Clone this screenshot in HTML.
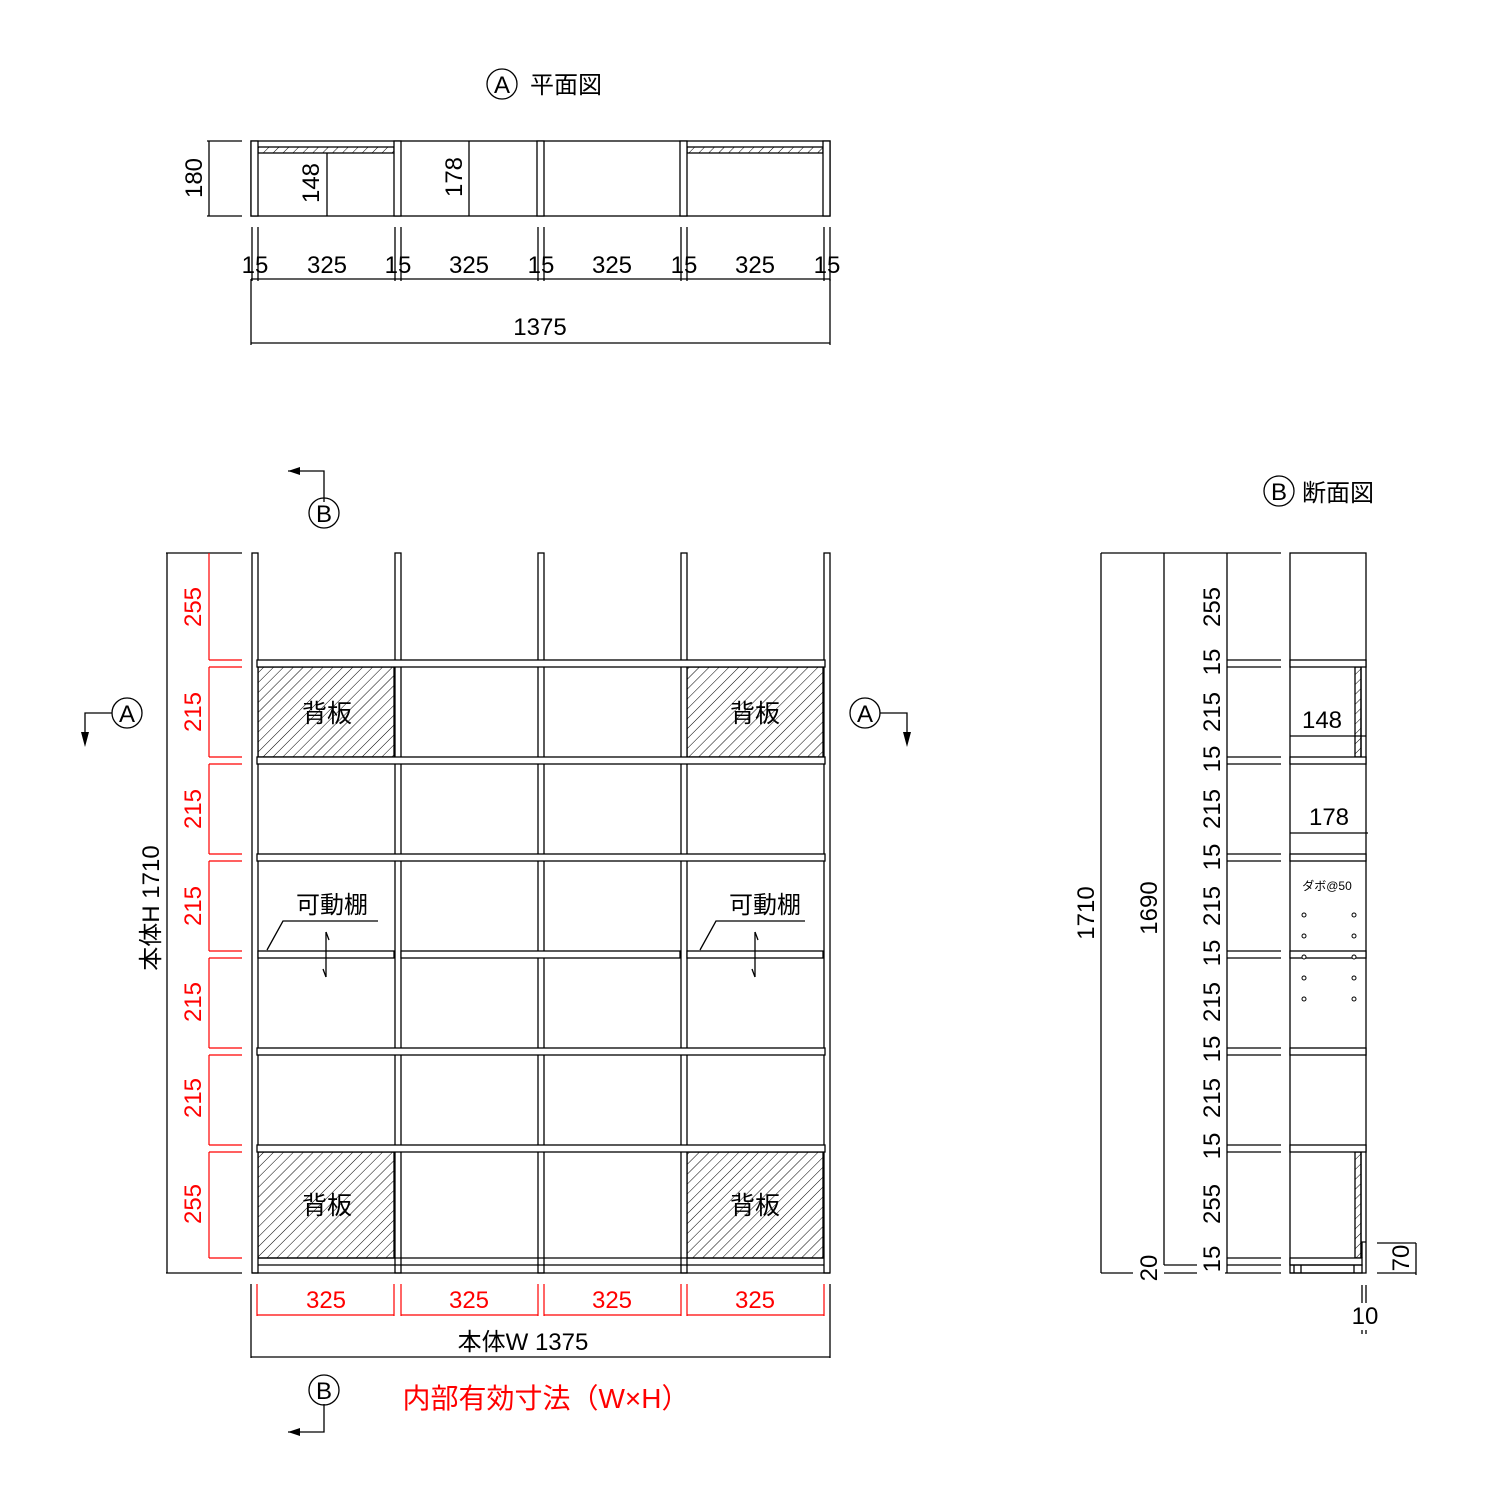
<!DOCTYPE html>
<html><head><meta charset="utf-8"><style>
html,body{margin:0;padding:0;background:#fff;}
svg{display:block;}
text{font-family:"Liberation Sans","Noto Sans CJK JP",sans-serif;}
</style></head><body>
<svg width="1500" height="1500" viewBox="0 0 1500 1500" xmlns="http://www.w3.org/2000/svg">
<defs>
<pattern id="h" width="7" height="7" patternUnits="userSpaceOnUse" patternTransform="rotate(45)">
<line x1="0" y1="0" x2="0" y2="7" stroke="#000" stroke-width="1"/>
</pattern>
</defs>
<g stroke="#000" stroke-width="1.3" fill="none">
<circle cx="502" cy="84" r="15"/>
<rect x="251" y="141" width="579" height="75" fill="#fff"/>
<rect x="258" y="147" width="136" height="6" fill="url(#h)"/>
<rect x="687" y="147" width="136" height="6" fill="url(#h)"/>
<rect x="251" y="141" width="7" height="75" fill="#fff"/>
<rect x="394" y="141" width="7" height="75" fill="#fff"/>
<rect x="537" y="141" width="7" height="75" fill="#fff"/>
<rect x="680" y="141" width="7" height="75" fill="#fff"/>
<rect x="823" y="141" width="7" height="75" fill="#fff"/>
<line x1="327" y1="153" x2="327" y2="216"/>
<line x1="469" y1="141" x2="469" y2="216"/>
<line x1="209" y1="141" x2="209" y2="216"/>
<line x1="207" y1="141" x2="242" y2="141"/>
<line x1="207" y1="216" x2="242" y2="216"/>
<path d="M252 227V281M258 227V281M395 227V281M401 227V281M538 227V281M544 227V281M681 227V281M687 227V281M824 227V281M830 227V281"/>
<line x1="251" y1="279" x2="830" y2="279"/>
<line x1="251" y1="343" x2="830" y2="343"/>
<line x1="251" y1="279" x2="251" y2="345"/>
<line x1="830" y1="279" x2="830" y2="345"/>

<path d="M288 471H324V502"/>
<circle cx="324" cy="513" r="15"/>
<path d="M288 1432H324V1404"/>
<circle cx="324" cy="1390" r="15"/>
<path d="M85 732V713H112"/>
<circle cx="127" cy="713" r="15"/>
<path d="M907 732V713H880"/>
<circle cx="865" cy="713" r="15"/>

<rect x="258" y="667" width="136" height="90" fill="url(#h)"/>
<rect x="687" y="667" width="136" height="90" fill="url(#h)"/>
<rect x="258" y="1152" width="136" height="106" fill="url(#h)"/>
<rect x="687" y="1152" width="136" height="106" fill="url(#h)"/>

<rect x="252" y="553" width="6" height="720" fill="#fff"/>
<rect x="395" y="553" width="6" height="720" fill="#fff"/>
<rect x="538" y="553" width="6" height="720" fill="#fff"/>
<rect x="681" y="553" width="6" height="720" fill="#fff"/>
<rect x="824" y="553" width="6" height="720" fill="#fff"/>

<rect x="257" y="660" width="568" height="7" fill="#fff"/>
<rect x="257" y="757" width="568" height="7" fill="#fff"/>
<rect x="257" y="854" width="568" height="7" fill="#fff"/>
<rect x="258" y="951" width="136" height="7" fill="#fff"/>
<rect x="401" y="951" width="279" height="7" fill="#fff"/>
<rect x="687" y="951" width="136" height="7" fill="#fff"/>
<rect x="257" y="1048" width="568" height="7" fill="#fff"/>
<rect x="257" y="1145" width="568" height="7" fill="#fff"/>
<line x1="258" y1="1258" x2="824" y2="1258"/>
<line x1="258" y1="1265" x2="824" y2="1265"/>
<line x1="252" y1="1273" x2="830" y2="1273"/>

<path d="M267 950L283 921H378"/>
<path d="M326 932V977M700 950L716 921H805M755 932V977"/>
<path d="M326 932L329 940M326 977L323 969M755 932L758 940M755 977L752 969"/>

<line x1="167" y1="553" x2="167" y2="1273"/>
<line x1="166" y1="553" x2="242" y2="553"/>
<line x1="166" y1="1273" x2="242" y2="1273"/>
<line x1="251" y1="1284" x2="251" y2="1358"/>
<line x1="830" y1="1284" x2="830" y2="1358"/>
<line x1="251" y1="1357" x2="830" y2="1357"/>
</g>
<g stroke="#f00" stroke-width="1.2" fill="none">
<line x1="209" y1="553" x2="209" y2="660"/>
<line x1="209" y1="667" x2="209" y2="757"/>
<line x1="209" y1="764" x2="209" y2="854"/>
<line x1="209" y1="861" x2="209" y2="951"/>
<line x1="209" y1="958" x2="209" y2="1048"/>
<line x1="209" y1="1055" x2="209" y2="1145"/>
<line x1="209" y1="1152" x2="209" y2="1258"/>
<path d="M209 660H242M209 667H242M209 757H242M209 764H242M209 854H242M209 861H242M209 951H242M209 958H242M209 1048H242M209 1055H242M209 1145H242M209 1152H242M209 1258H242"/>
<path d="M257 1284V1316M394 1284V1316M401 1284V1316M538 1284V1316M544 1284V1316M681 1284V1316M687 1284V1316M824 1284V1316"/>
<path d="M257 1315H394M401 1315H538M544 1315H681M687 1315H824"/>
</g>

<g fill="#000">
<polygon points="288,471 300,467 300,475"/>
<polygon points="288,1432 300,1428 300,1436"/>
<polygon points="85,747 81,732 89,732"/>
<polygon points="907,747 903,732 911,732"/>
</g>

<g stroke="#000" stroke-width="1.3" fill="none">
<circle cx="1279" cy="491" r="15"/>
<line x1="1101" y1="553" x2="1101" y2="1273"/>
<line x1="1164" y1="553" x2="1164" y2="1265"/>
<line x1="1227" y1="553" x2="1227" y2="1273"/>
<path d="M1101 553H1281M1101 1273H1133M1164 1265H1197M1164 1273H1197M1225 1273H1281"/>
<path d="M1227 660H1281M1227 667H1281M1227 757H1281M1227 764H1281M1227 854H1281M1227 861H1281M1227 951H1281M1227 958H1281M1227 1048H1281M1227 1055H1281M1227 1145H1281M1227 1152H1281M1227 1258H1281M1227 1265H1281"/>
<rect x="1290" y="553" width="76" height="720" fill="#fff"/>
<rect x="1355" y="667" width="6" height="90" fill="url(#h)"/>
<rect x="1355" y="1152" width="6" height="106" fill="url(#h)"/>
<path d="M1361 667V757M1361 1152V1258"/>
<rect x="1290" y="660" width="76" height="7" fill="#fff"/>
<rect x="1290" y="757" width="76" height="7" fill="#fff"/>
<rect x="1290" y="854" width="76" height="7" fill="#fff"/>
<rect x="1290" y="951" width="76" height="7" fill="#fff"/>
<rect x="1290" y="1048" width="76" height="7" fill="#fff"/>
<rect x="1290" y="1145" width="76" height="7" fill="#fff"/>
<rect x="1290" y="1258" width="72" height="7" fill="#fff"/>
<path d="M1290 1265H1362V1273H1290M1294 1265V1273M1301 1265V1273M1354 1265V1273M1362 1258V1242H1366"/>
<line x1="1290" y1="736" x2="1366" y2="736"/>
<line x1="1290" y1="833" x2="1368" y2="833"/>
<path d="M1377 1243H1416M1377 1273H1416M1416 1243V1275"/>
<path d="M1362 1285V1303M1366 1285V1303M1362 1330V1334M1366 1330V1334"/>
</g>
<g stroke="#000" stroke-width="1" fill="#fff">
<circle cx="1304" cy="915" r="2"/><circle cx="1354" cy="915" r="2"/>
<circle cx="1304" cy="936" r="2"/><circle cx="1354" cy="936" r="2"/>
<circle cx="1304" cy="957" r="2"/><circle cx="1354" cy="957" r="2"/>
<circle cx="1304" cy="978" r="2"/><circle cx="1354" cy="978" r="2"/>
<circle cx="1304" cy="999" r="2"/><circle cx="1354" cy="999" r="2"/>
</g>

<g fill="#000" font-size="24" text-anchor="middle">
<text x="502" y="93">A</text>
<text x="566" y="93" font-size="24">平面図</text>
<text x="1279" y="500">B</text>
<text x="1338" y="501">断面図</text>
<text x="324" y="522">B</text>
<text x="324" y="1399">B</text>
<text x="127" y="722">A</text>
<text x="865" y="722">A</text>
</g>
<g fill="#000" font-size="24" text-anchor="middle">
<text x="255" y="273">15</text><text x="327" y="273">325</text>
<text x="398" y="273">15</text><text x="469" y="273">325</text>
<text x="541" y="273">15</text><text x="612" y="273">325</text>
<text x="684" y="273">15</text><text x="755" y="273">325</text>
<text x="827" y="273">15</text>
<text x="540" y="335">1375</text>
<text transform="translate(202,178) rotate(-90)">180</text>
<text transform="translate(319,183) rotate(-90)">148</text>
<text transform="translate(462,177) rotate(-90)">178</text>
<text x="327" y="722" font-size="25">背板</text>
<text x="755" y="722" font-size="25">背板</text>
<text x="327" y="1214" font-size="25">背板</text>
<text x="755" y="1214" font-size="25">背板</text>
<text x="332" y="913">可動棚</text>
<text x="765" y="913">可動棚</text>
<text transform="translate(159,908) rotate(-90)">本体H 1710</text>
<text x="523" y="1350">本体W 1375</text>
<text transform="translate(1094,913) rotate(-90)">1710</text>
<text transform="translate(1157,908) rotate(-90)">1690</text>
<text transform="translate(1157,1268) rotate(-90)">20</text>
<text x="1322" y="728">148</text>
<text x="1329" y="825">178</text>
<text transform="translate(1409,1258) rotate(-90)">70</text>
<text x="1365" y="1324">10</text>
<text x="1327" y="890" font-size="12">ダボ@50</text>
</g>
<g fill="#000" font-size="24" text-anchor="middle">
<text transform="translate(1220,607) rotate(-90)">255</text>
<text transform="translate(1220,662) rotate(-90)">15</text>
<text transform="translate(1220,712) rotate(-90)">215</text>
<text transform="translate(1220,759) rotate(-90)">15</text>
<text transform="translate(1220,809) rotate(-90)">215</text>
<text transform="translate(1220,857) rotate(-90)">15</text>
<text transform="translate(1220,906) rotate(-90)">215</text>
<text transform="translate(1220,953) rotate(-90)">15</text>
<text transform="translate(1220,1002) rotate(-90)">215</text>
<text transform="translate(1220,1049) rotate(-90)">15</text>
<text transform="translate(1220,1098) rotate(-90)">215</text>
<text transform="translate(1220,1146) rotate(-90)">15</text>
<text transform="translate(1220,1204) rotate(-90)">255</text>
<text transform="translate(1220,1259) rotate(-90)">15</text>
</g>
<g fill="#f00" font-size="24" text-anchor="middle">
<text transform="translate(201,607) rotate(-90)">255</text>
<text transform="translate(201,712) rotate(-90)">215</text>
<text transform="translate(201,809) rotate(-90)">215</text>
<text transform="translate(201,906) rotate(-90)">215</text>
<text transform="translate(201,1002) rotate(-90)">215</text>
<text transform="translate(201,1098) rotate(-90)">215</text>
<text transform="translate(201,1204) rotate(-90)">255</text>
<text x="326" y="1308">325</text>
<text x="469" y="1308">325</text>
<text x="612" y="1308">325</text>
<text x="755" y="1308">325</text>
<text x="546" y="1408" font-size="28">内部有効寸法（W×H）</text>
</g>
</svg>
</body></html>
